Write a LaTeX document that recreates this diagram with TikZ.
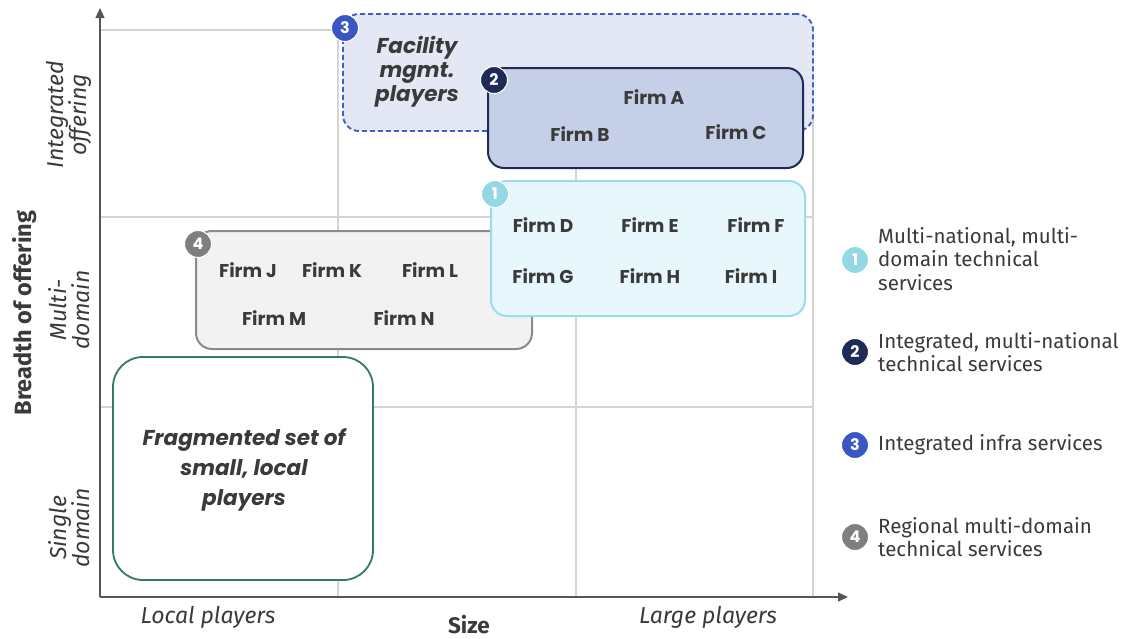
\documentclass[tikz,border=0pt]{standalone}
\usepackage{fontspec}
\setmainfont{Fira Sans}
\newfontfamily\pop{Poppins}
\usetikzlibrary{arrows.meta}
\definecolor{gridc}{HTML}{D4D4D4}
\definecolor{axisc}{HTML}{555555}
\definecolor{txt}{HTML}{3A3A3A}
\definecolor{fill3}{HTML}{E4E8F4}
\definecolor{draw3}{HTML}{3F5FCB}
\definecolor{fill2}{HTML}{C5D0E8}
\definecolor{draw2}{HTML}{1E2B56}
\definecolor{fill1}{HTML}{E8F7FB}
\definecolor{draw1}{HTML}{9ADCE8}
\definecolor{fill4}{HTML}{F2F2F2}
\definecolor{draw4}{HTML}{8A8A8A}
\definecolor{drawg}{HTML}{2F7A68}
\definecolor{bdg1}{HTML}{94D8E5}
\definecolor{bdg2}{HTML}{1E2B56}
\definecolor{bdg3}{HTML}{3A56C5}
\definecolor{bdg4}{HTML}{7F7F7F}
\tikzset{
  gridline/.style={draw=gridc, line width=1.2pt},
  axisline/.style={draw=axisc, line width=1.2pt, -{Triangle[length=10pt,width=9pt]}},
  grp/.style={rectangle, rounded corners=16pt, line width=2pt, inner sep=0pt},
  badge/.style={circle, draw=white, line width=1pt, minimum size=27pt, inner sep=0pt, text=white, font=\pop\bfseries\fontsize{16}{16}\selectfont},
  firm/.style={text=txt, font=\pop\bfseries\fontsize{18.5}{20}\selectfont, inner sep=0pt},
  bigit/.style={text=txt, align=center, font=\pop\bfseries\itshape\fontsize{21.5}{24}\selectfont, inner sep=0pt},
  axlab/.style={text=txt, align=center, font=\itshape\fontsize{23}{23.5}\selectfont, inner sep=0pt},
  axtitle/.style={text=txt, font=\bfseries\fontsize{23.5}{24}\selectfont, inner sep=0pt},
  legtxt/.style={text=txt, align=left, anchor=west, font=\fontsize{20.5}{23.5}\selectfont, inner sep=0pt},
}
\begin{document}
\begin{tikzpicture}[x=1pt,y=-1pt]
\path[use as bounding box] (0,0) rectangle (1125,638);
% grid
\coordinate (o) at (100,597);
\coordinate (ytip) at (100,8);
\coordinate (xtip) at (848,597);
\coordinate (g1a) at (100,30);  \coordinate (g1b) at (813,30);
\coordinate (g2a) at (100,217); \coordinate (g2b) at (813,217);
\coordinate (g3a) at (100,407); \coordinate (g3b) at (813,407);
\coordinate (v1a) at (338,30);  \coordinate (v1b) at (338,597);
\coordinate (v2a) at (576,30);  \coordinate (v2b) at (576,597);
\coordinate (v3a) at (813,30);  \coordinate (v3b) at (813,597);
\draw[gridline] (g1a) -- (g1b);
\draw[gridline] (g2a) -- (g2b);
\draw[gridline] (g3a) -- (g3b);
\draw[gridline] (v1a) -- (v1b);
\draw[gridline] (v2a) -- (v2b);
\draw[gridline] (v3a) -- (v3b);
\draw[axisline] (o) -- (ytip);
\draw[axisline] (o) -- (xtip);
% groups
\node[grp, draw=drawg, fill=white, rounded corners=30pt, line width=1.8pt, minimum width=260pt, minimum height=223pt] (gf) at (243,468.5) {};
\node[grp, draw=draw4, fill=fill4, minimum width=336pt, minimum height=118pt] (g4) at (364,290) {};
\node[grp, draw=draw3, fill=fill3, dashed, dash pattern=on 5pt off 3pt, line width=1.9pt, minimum width=470pt, minimum height=117pt] (g3) at (578,72.5) {};
\node[grp, draw=draw2, fill=fill2, minimum width=315pt, minimum height=100pt] (g2) at (645.5,118) {};
\node[grp, draw=draw1, fill=fill1, minimum width=314pt, minimum height=135pt] (g1) at (648,248.5) {};
% badges
\node[badge, fill=bdg3] (b3) at (345,28) {3};
\node[badge, fill=bdg2] (b2) at (494,80) {2};
\node[badge, fill=bdg1] (b1) at (495,194) {1};
\node[badge, fill=bdg4] (b4) at (198,244) {4};
% texts in groups
\node[bigit] (fac) at (417,72) {Facility\\mgmt.\\players};
\node[bigit, font=\pop\bfseries\itshape\fontsize{21.5}{30}\selectfont] (frag) at (244,470) {Fragmented set of\\small, local\\players};
\node[firm] (fa) at (654,97) {Firm A};
\node[firm] (fb) at (580,134) {Firm B};
\node[firm] (fc) at (736,132) {Firm C};
\node[firm] (fd) at (543,225) {Firm D};
\node[firm] (fe) at (650,225) {Firm E};
\node[firm] (ff) at (756,225) {Firm F};
\node[firm] (fg) at (543,276) {Firm G};
\node[firm] (fh) at (650,276) {Firm H};
\node[firm] (fi) at (751,276) {Firm I};
\node[firm] (fj) at (248,270) {Firm J};
\node[firm] (fk) at (332,270) {Firm K};
\node[firm] (fl) at (430,270) {Firm L};
\node[firm] (fm) at (274,318) {Firm M};
\node[firm] (fn) at (404,318) {Firm N};
% axis labels
\node[axlab, rotate=90] (yl1) at (69,115) {Integrated\\offering};
\node[axlab, rotate=90] (yl2) at (69,310) {Multi-\\domain};
\node[axlab, rotate=90] (yl3) at (69,528) {Single\\domain};
\node[axtitle, rotate=90] (ytitle) at (25,313) {Breadth of offering};
\node[axlab] (xl1) at (208,617) {Local players};
\node[axlab] (xl2) at (708,617) {Large players};
\node[axtitle, font=\bfseries\fontsize{22.5}{24}\selectfont] (xtitle) at (469,625) {Size};
% legend
\node[badge, fill=bdg1] (l1) at (855,260) {1};
\node[badge, fill=bdg2] (l2) at (855,352) {2};
\node[badge, fill=bdg3] (l3) at (855,445) {3};
\node[badge, fill=bdg4] (l4) at (855,537) {4};
\node[legtxt] (t1) at (878,259) {Multi-national, multi-\\domain technical\\services};
\node[legtxt] (t2) at (878,352) {Integrated, multi-national\\technical services};
\node[legtxt] (t3) at (878,445) {Integrated infra services};
\node[legtxt] (t4) at (878,537) {Regional multi-domain\\technical services};
\end{tikzpicture}
\end{document}
